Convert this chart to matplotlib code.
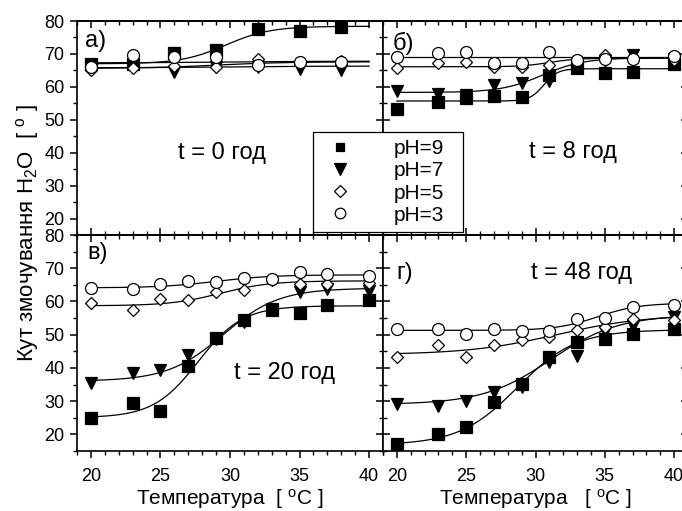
import numpy as np
import matplotlib
matplotlib.use("Agg")
import matplotlib.pyplot as plt
from matplotlib.lines import Line2D
from matplotlib.ticker import MultipleLocator

plt.rcParams['font.family'] = ['Liberation Sans', 'DejaVu Sans']
plt.rcParams['mathtext.fontset'] = 'custom'
plt.rcParams['mathtext.rm'] = 'Liberation Sans'
plt.rcParams['mathtext.it'] = 'Liberation Sans:italic'

# temperatures, deg C
temp_a = [20, 23, 26, 29, 32, 35, 38]
temp = [20, 23, 25, 27, 29, 31, 33, 35, 37, 40]

# contact angle, t = 0 h
a_ph9 = [66.8, 67.0, 70.2, 71.2, 77.5, 77.0, 78.3]
a_ph7 = [66.0, 66.0, 64.5, 66.0, 66.0, 65.5, 65.0]
a_ph5 = [65.1, 65.6, 66.4, 66.0, 68.6, 67.2, 67.7]
a_ph3 = [66.0, 69.7, 69.0, 69.2, 66.6, 67.5, 67.5]

# t = 8 h
b_ph9 = [53.3, 55.5, 56.5, 57.3, 56.9, 63.6, 65.6, 64.1, 64.6, 67.0]
b_ph7 = [58.6, 57.9, 57.4, 60.5, 61.3, 61.8, 66.1, 68.0, 69.7, 68.5]
b_ph5 = [65.6, 67.1, 67.6, 66.1, 66.1, 66.6, 68.1, 69.7, 68.6, 68.1]
b_ph3 = [69.0, 70.2, 70.7, 67.1, 67.1, 70.7, 68.1, 68.6, 68.6, 69.4]

# t = 20 h
c_ph9 = [24.8, 29.5, 27.0, 40.6, 49.1, 54.5, 57.3, 56.6, 58.8, 60.4]
c_ph7 = [35.6, 38.4, 39.4, 44.0, 48.8, 53.8, 57.6, 62.9, 63.6, 63.1]
c_ph5 = [59.4, 57.3, 60.7, 60.4, 62.7, 63.4, 66.4, 65.4, 65.4, 65.7]
c_ph3 = [64.2, 63.9, 65.2, 66.1, 65.9, 67.2, 66.9, 68.9, 68.4, 67.7]

# t = 48 h
d_ph9 = [17.1, 20.1, 22.1, 29.6, 35.1, 43.4, 47.7, 48.8, 50.1, 51.6]
d_ph7 = [29.2, 28.5, 30.0, 32.9, 34.4, 41.7, 43.7, 50.7, 52.7, 55.4]
d_ph5 = [43.4, 46.8, 43.4, 46.8, 48.5, 49.3, 51.3, 52.3, 54.8, 54.5]
d_ph3 = [51.6, 51.8, 50.1, 51.6, 51.1, 51.1, 54.8, 55.1, 58.2, 58.9]

# Boltzmann fit parameters (A1, A2, x0, dx)
fit_a = [(67.0, 78.4, 29.7, 1.6), (65.8, 66.3, 30.0, 3.0),
         (65.6, 67.6, 29.0, 2.5), (67.3, 67.8, 30.0, 3.0)]
fit_b = [(55.7, 65.5, 30.6, 0.5), (58.3, 68.8, 30.5, 1.5),
         (66.1, 68.7, 31.0, 1.0), (69.0, 69.0, 30.0, 1.0)]
fit_c = [(25.0, 58.7, 27.7, 1.6), (36.0, 64.0, 29.5, 2.0),
         (58.7, 66.2, 29.3, 1.8), (64.1, 68.0, 29.0, 2.0)]
fit_d = [(16.8, 51.5, 28.7, 2.1), (29.0, 56.0, 31.1, 2.45),
         (44.0, 56.0, 31.5, 3.2), (51.3, 59.5, 34.5, 1.5)]

labels = ['pH=9', 'pH=7', 'pH=5', 'pH=3']
times = ['t = 0 год', 't = 8 год', 't = 20 год', 't = 48 год']
letters = ['а)', 'б)', 'в)', 'г)']

styles = [dict(marker='s', ms=8, mfc='black', mec='black'),
          dict(marker='v', ms=9, mfc='black', mec='black'),
          dict(marker='D', ms=6.3, mfc='white', mec='black'),
          dict(marker='o', ms=8.6, mfc='white', mec='black')]


def boltzmann(x, p):
    a1, a2, x0, dx = p
    return a2 + (a1 - a2) / (1 + np.exp((x - x0) / dx))


W, H = 682, 511
fig = plt.figure(figsize=(W / 100, H / 100), dpi=100)


def pos(x0, x1, y0, y1):
    return [x0 / W, 1 - y1 / H, (x1 - x0) / W, (y1 - y0) / H]


ax_a = fig.add_axes(pos(77, 383, 21, 235))
ax_b = fig.add_axes(pos(383, 688, 21, 235))
ax_c = fig.add_axes(pos(77, 383, 235, 451))
ax_d = fig.add_axes(pos(383, 688, 235, 451))

panels = [
    (ax_a, temp_a, [a_ph9, a_ph7, a_ph5, a_ph3], fit_a, (29.45, 39.9), (19.58, 73.9)),
    (ax_b, temp, [b_ph9, b_ph7, b_ph5, b_ph3], fit_b, (32.7, 40.2), (19.72, 73.3)),
    (ax_c, temp, [c_ph9, c_ph7, c_ph5, c_ph3], fit_c, (33.9, 38.6), (19.72, 74.6)),
    (ax_d, temp, [d_ph9, d_ph7, d_ph5, d_ph3], fit_d, (33.3, 68.5), (20.0, 68.5)),
]

xs = np.linspace(20, 40, 200)
for i, (ax, tx, series, fits, tpos, lpos) in enumerate(panels):
    for p in fits:
        ax.plot(xs, boltzmann(xs, p), color='black', lw=0.9, zorder=2)
    for ys, st in zip(series, styles):
        ax.plot(tx, ys, ls='none', mew=0.9, zorder=3, clip_on=False, **st)
    ax.set_xlim(19, 41)
    ax.set_ylim(15, 80)
    ax.text(tpos[0], tpos[1], times[i], fontsize=17, ha='center', va='center')
    ax.text(lpos[0], lpos[1], letters[i], fontsize=17, ha='left', va='center')

    left_col = ax in (ax_a, ax_c)
    bottom_row = ax in (ax_c, ax_d)
    for sp in ax.spines.values():
        sp.set_linewidth(1.2)
    for axis, loc_maj, loc_min in ((ax.xaxis, 5, 1), (ax.yaxis, 10, 5)):
        axis.set_major_locator(MultipleLocator(loc_maj))
        axis.set_minor_locator(MultipleLocator(loc_min))
    ax.tick_params(axis='x', which='both', direction='out' if bottom_row else 'in',
                   labelbottom=bottom_row, labelsize=13, pad=7)
    ax.tick_params(axis='y', which='both', direction='out' if left_col else 'in',
                   labelleft=left_col, labelsize=13, pad=4)
    ax.tick_params(which='major', length=5, width=1.1)
    ax.tick_params(which='minor', length=3, width=1.0)

    sx = ax.secondary_xaxis('top')
    sy = ax.secondary_yaxis('right')
    for sec, axis, mj, mn in ((sx, sx.xaxis, 5, 1), (sy, sy.yaxis, 10, 5)):
        axis.set_major_locator(MultipleLocator(mj))
        axis.set_minor_locator(MultipleLocator(mn))
        sec.tick_params(which='both', direction='in', labeltop=False, labelright=False)
        sec.tick_params(which='major', length=5, width=1.1)
        sec.tick_params(which='minor', length=3, width=1.0)
        for sp in sec.spines.values():
            sp.set_linewidth(1.2)

ax_c.set_xlabel('Температура  [ $^\\mathrm{o}$C ]', fontsize=15, labelpad=2)
ax_d.set_xlabel('Температура   [ $^\\mathrm{o}$C ]', fontsize=15, labelpad=2)
fig.text(0.040, 0.544, 'Кут змочування H$_\\mathrm{2}$O  [ $^\\mathrm{o}$ ]',
         rotation=90, fontsize=16, ha='center', va='center')

leg_sizes = [6.3, 8.5, 6.6, 7.6]
handles = []
for st, s in zip(styles, leg_sizes):
    d = dict(st)
    d['ms'] = s
    handles.append(Line2D([], [], ls='none', mew=0.9, **d))
leg = fig.legend(handles, labels, loc='upper left',
                 bbox_to_anchor=(313 / W, 1 - 251 / H, 150 / W, 119 / H),
                 mode='expand', borderaxespad=0, fontsize=15,
                 handlelength=1.9, handletextpad=1.6, borderpad=0.35,
                 labelspacing=0.15, fancybox=False, framealpha=1,
                 edgecolor='black')
leg.get_frame().set_linewidth(0.9)

fig.savefig('out.png', dpi=100)
